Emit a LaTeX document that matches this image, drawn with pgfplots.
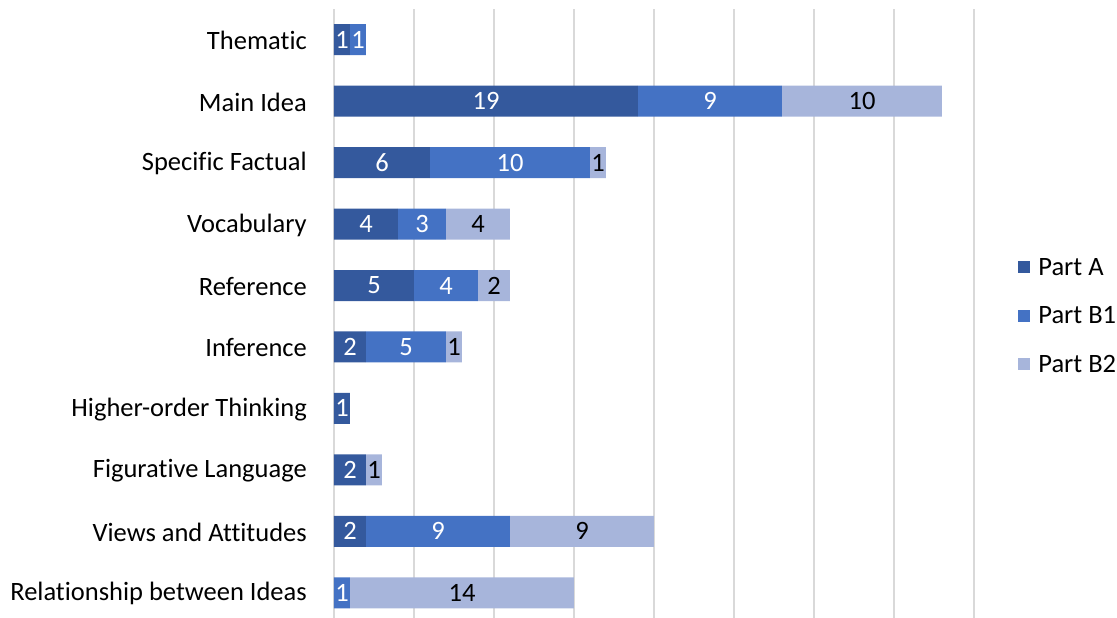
\documentclass[border=0pt]{standalone}
\usepackage{fontspec}
\setmainfont[Ligatures={NoCommon}]{Carlito}
\usepackage{pgfplots}
\usepackage{pgfplotstable}
\pgfplotsset{compat=1.18}
\definecolor{cA}{HTML}{34599D}
\definecolor{cB}{HTML}{4472C4}
\definecolor{cC}{HTML}{A7B5DB}
\definecolor{gridc}{HTML}{D9D9D9}
\pgfplotstableread{
idx A B1 B2 LA LB LC
9 1 1 0 1 1 {}
8 19 9 10 19 9 10
7 6 10 1 6 10 1
6 4 3 4 4 3 4
5 5 4 2 5 4 2
4 2 5 1 2 5 1
3 1 0 0 1 {} {}
2 2 0 1 2 {} 1
1 2 9 9 2 9 9
0 0 1 14 {} 1 14
}\datatable
\begin{document}
\begin{tikzpicture}[font=\fontsize{26.5bp}{31bp}\selectfont]
\path[use as bounding box] (-334bp,0) rectangle (783bp,618bp);
\begin{axis}[
  at={(0,0)}, anchor=south west,
  scale only axis, width=640bp, height=609bp,
  xbar stacked, bar width=31bp,
  xmin=0, xmax=40, ymin=-0.41, ymax=9.5,
  xtick={0,5,...,40}, xticklabels={},
  xmajorgrids, grid style={gridc, line width=1.2bp},
  ytick={0,...,9},
  yticklabels={Relationship between Ideas, Views and Attitudes, Figurative Language, Higher-order Thinking, Inference, Reference, Vocabulary, Specific Factual, Main Idea, Thematic},
  yticklabel style={anchor=east, inner sep=0pt, xshift=-27bp, yshift=-1bp},
  axis line style={draw=none}, tick style={draw=none},
  legend style={at={(1.069,0.496)}, anchor=west, draw=none, fill=none,
    row sep=30bp, inner sep=0pt, nodes={inner sep=0pt, inner xsep=8bp, anchor=west}},
  legend cell align=left,
  point meta=explicit symbolic,
  nodes near coords,
  every node near coord/.append style={anchor=center, inner sep=0pt},
]
\addplot[fill=cA, draw=none,
  legend image code/.code={\fill[cA] (0bp,-6bp) rectangle (12bp,6bp);},
  every node near coord/.append style={white}]
  table[x=A, y=idx, meta=LA] {\datatable};
\addplot[fill=cB, draw=none,
  legend image code/.code={\fill[cB] (0bp,-6bp) rectangle (12bp,6bp);},
  every node near coord/.append style={white}]
  table[x=B1, y=idx, meta=LB] {\datatable};
\addplot[fill=cC, draw=none,
  legend image code/.code={\fill[cC] (0bp,-6bp) rectangle (12bp,6bp);},
  every node near coord/.append style={black}]
  table[x=B2, y=idx, meta=LC] {\datatable};
\legend{Part A, Part B1, Part B2}
\end{axis}
\end{tikzpicture}
\end{document}
